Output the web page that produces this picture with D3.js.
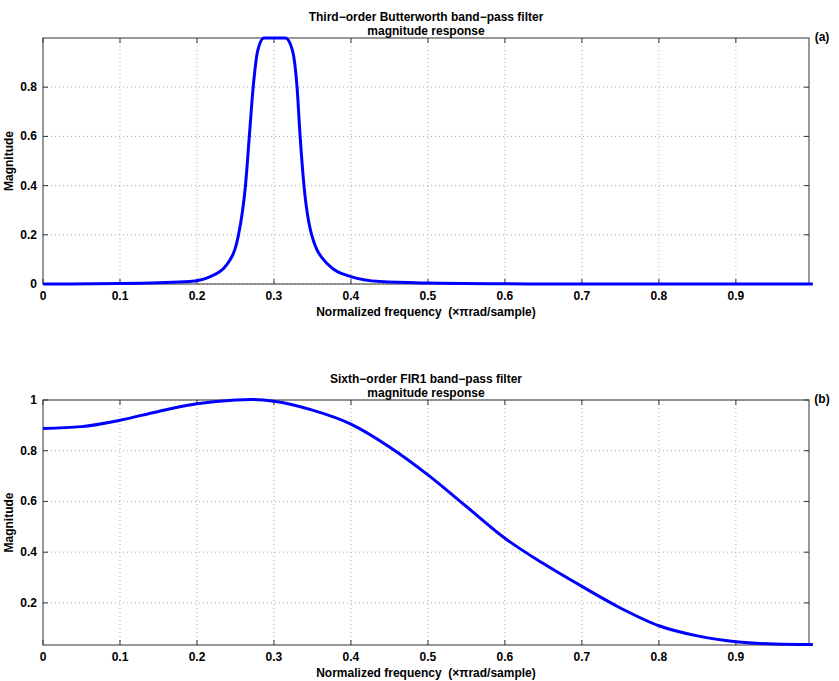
<!DOCTYPE html>
<html><head><meta charset="utf-8">
<script src="https://cdn.jsdelivr.net/npm/d3@7"></script>
<style>
body{margin:0;background:#fff}
text{font-family:"Liberation Sans",Arial,sans-serif;font-weight:bold;font-size:12px;fill:#000}
</style></head><body>
<svg id="c" width="839" height="681"></svg>
<script>
// Third-order Butterworth band-pass
var bwFreq = [0, 0.1, 0.15, 0.19, 0.215, 0.239, 0.254, 0.263, 0.268, 0.273, 0.279, 0.287, 0.315, 0.324, 0.33, 0.334, 0.339, 0.349, 0.37, 0.4, 0.438, 0.5, 0.6, 0.7, 1];
var bwMag  = [0, 0.002, 0.005, 0.01, 0.027, 0.08, 0.2, 0.4, 0.6, 0.8, 0.95, 1, 1, 0.95, 0.8, 0.6, 0.4, 0.2, 0.08, 0.03, 0.01, 0.004, 0.001, 0, 0];
// Sixth-order FIR1 band-pass
var firFreq = [0, 0.05, 0.1, 0.15, 0.2, 0.25, 0.27, 0.3, 0.35, 0.4, 0.45, 0.5, 0.55, 0.6, 0.65, 0.7, 0.75, 0.8, 0.85, 0.9, 0.95, 1];
var firMag  = [0.888, 0.895, 0.92, 0.955, 0.985, 1.0, 1.002, 0.995, 0.96, 0.905, 0.815, 0.705, 0.58, 0.455, 0.355, 0.265, 0.18, 0.11, 0.07, 0.047, 0.038, 0.036];
var xTicks = [0, 0.1, 0.2, 0.3, 0.4, 0.5, 0.6, 0.7, 0.8, 0.9];
var yTicksA = [0, 0.2, 0.4, 0.6, 0.8];
var yTicksB = [0.2, 0.4, 0.6, 0.8, 1];

var svg = d3.select("#c");

function panel(o) {
    var x = d3.scaleLinear().domain([0, 0.995]).range([43, 809]);
    var y = d3.scaleLinear().domain(o.yDomain).range([o.bottom, o.top]);
    var g = svg.append("g");

    // grid
    g.selectAll("line.gx").data(xTicks.slice(1)).enter().append("line")
        .attr("x1", x).attr("x2", x).attr("y1", o.top).attr("y2", o.bottom)
        .attr("stroke", "#aaa").attr("stroke-dasharray", "1,3");
    g.selectAll("line.gy").data(o.yTicks).enter().append("line")
        .attr("y1", y).attr("y2", y).attr("x1", 43).attr("x2", 809)
        .attr("stroke", "#aaa").attr("stroke-dasharray", "1,3");

    // inward ticks on all four sides
    var tl = 5;
    xTicks.forEach(function (t) {
        g.append("line").attr("x1", x(t)).attr("x2", x(t)).attr("y1", o.bottom).attr("y2", o.bottom - tl).attr("stroke", "#333");
        g.append("line").attr("x1", x(t)).attr("x2", x(t)).attr("y1", o.top).attr("y2", o.top + tl).attr("stroke", "#333");
        g.append("text").attr("x", x(t)).attr("y", o.bottom + 16).attr("text-anchor", "middle").text(t);
    });
    o.yTicks.forEach(function (t) {
        g.append("line").attr("x1", 43).attr("x2", 43 + tl).attr("y1", y(t)).attr("y2", y(t)).attr("stroke", "#333");
        g.append("line").attr("x1", 809).attr("x2", 809 - tl).attr("y1", y(t)).attr("y2", y(t)).attr("stroke", "#333");
        g.append("text").attr("x", 37).attr("y", y(t) + 4).attr("text-anchor", "end").text(t);
    });

    g.append("rect").attr("x", 43).attr("y", o.top).attr("width", 766).attr("height", o.bottom - o.top)
        .attr("fill", "none").attr("stroke", "#333");

    var line = d3.line().x(function (d) { return x(d[0]); }).y(function (d) { return y(d[1]); })
        .curve(d3.curveMonotoneX);
    g.append("path").datum(d3.zip(o.xs, o.ys)).attr("d", line)
        .attr("fill", "none").attr("stroke", "#0000ff").attr("stroke-width", 3);

    g.append("text").attr("x", 426).attr("y", o.top - 17).attr("text-anchor", "middle").text(o.title[0]);
    g.append("text").attr("x", 426).attr("y", o.top - 3).attr("text-anchor", "middle").text(o.title[1]);
    g.append("text").attr("x", 822).attr("y", o.top + 3).attr("text-anchor", "middle").text(o.tag);
    g.append("text").attr("x", 426).attr("y", o.bottom + 32).attr("text-anchor", "middle")
        .attr("xml:space", "preserve")
        .text("Normalized frequency  (\u00d7\u03c0rad/sample)");
    g.append("text").attr("transform", "translate(13," + ((o.top + o.bottom) / 2) + ") rotate(-90)")
        .attr("text-anchor", "middle").text("Magnitude");
}

panel({ top: 38, bottom: 284, yDomain: [0, 1], yTicks: yTicksA, xs: bwFreq, ys: bwMag,
        title: ["Third\u2212order Butterworth band\u2212pass filter", "magnitude response"], tag: "(a)" });
panel({ top: 400, bottom: 645, yDomain: [0.034, 1], yTicks: yTicksB, xs: firFreq, ys: firMag,
        title: ["Sixth\u2212order FIR1 band\u2212pass filter", "magnitude response"], tag: "(b)" });
</script>
</body></html>
